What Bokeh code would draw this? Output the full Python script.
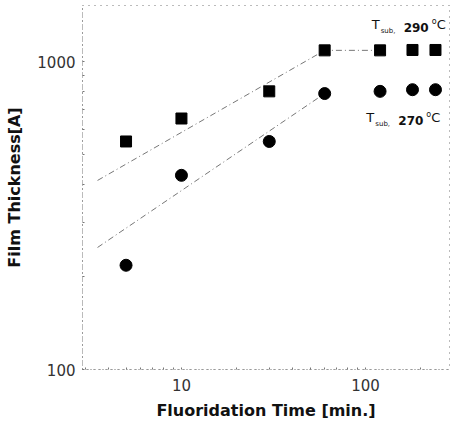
from bokeh.plotting import figure
from bokeh.models import FixedTicker, Label, Range1d
from bokeh.embed import file_html
from bokeh.resources import INLINE

# data
time_min = [5, 10, 30, 60, 120, 180, 240]
thick_290 = [550, 653, 800, 1087, 1087, 1090, 1090]
thick_270 = [218, 427, 550, 787, 800, 810, 810]

fit290_x = [3.5, 60, 120]
fit290_y = [411, 1087, 1087]
fit270_x = [3.5, 60]
fit270_y = [249, 787]

x_major = [10, 100]
x_minor = [3, 4, 5, 6, 7, 8, 9, 20, 30, 40, 50, 60, 70, 80, 90, 200]
y_major = [100, 1000]
y_minor = [200, 300, 400, 500, 600, 700, 800, 900]

FONT = "DejaVu Sans"

p = figure(width=451, height=429, x_axis_type="log", y_axis_type="log",
           x_range=Range1d(2.9, 286), y_range=Range1d(100, 1520),
           output_backend="svg", toolbar_location=None,
           min_border_left=82, min_border_right=2, min_border_top=5,
           min_border_bottom=60)
p.grid.visible = False
p.background_fill_color = "white"
p.border_fill_color = "white"
p.outline_line_color = "#777777"
p.outline_line_dash = "1 5"
p.outline_line_width = 1

p.line(fit290_x, fit290_y, line_color="#777777", line_width=1, line_dash="6 3 1 3")
p.line(fit270_x, fit270_y, line_color="#777777", line_width=1, line_dash="6 3 1 3")

p.scatter(time_min, thick_290, marker="square", size=11, color="black")
p.scatter(time_min, thick_270, marker="circle", size=12, color="black")

for ax, major, minor in ((p.xaxis[0], x_major, x_minor), (p.yaxis[0], y_major, y_minor)):
    ax.ticker = FixedTicker(ticks=major, minor_ticks=minor)
    ax.major_label_overrides = {v: str(v) for v in major}
    ax.major_label_text_font = FONT
    ax.major_label_text_font_size = "15px"
    ax.major_label_text_color = "#333333"
    ax.axis_label_text_font = FONT
    ax.axis_label_text_font_size = "16px"
    ax.axis_label_text_font_style = "bold"
    ax.axis_label_text_color = "#111111"
    ax.axis_line_color = "#777777"
    ax.axis_line_dash = "1 3"
    ax.major_tick_line_color = "#777777"
    ax.minor_tick_line_color = "#777777"
    ax.major_tick_in = 2
    ax.major_tick_out = 0
    ax.minor_tick_in = 2
    ax.minor_tick_out = 0

p.xaxis[0].axis_label = "Fluoridation Time [min.]"
p.yaxis[0].axis_label = "Film Thickness[A]"
p.xaxis[0].major_label_standoff = 9
p.yaxis[0].major_label_standoff = 7
p.xaxis[0].axis_label_standoff = 7
p.yaxis[0].axis_label_standoff = 10

def tsub(x, y, temp):
    p.add_layout(Label(x=x, y=y, text="T", text_font=FONT, text_font_size="13px",
                       text_color="#111111"))
    p.add_layout(Label(x=x, y=y, x_offset=9, y_offset=-3, text="sub,", text_font=FONT,
                       text_font_size="7px", text_color="#111111"))
    p.add_layout(Label(x=x, y=y, x_offset=32, text=temp, text_font=FONT,
                       text_font_size="12px", text_font_style="bold", text_color="#111111"))
    p.add_layout(Label(x=x, y=y, x_offset=60, y_offset=6, text="o", text_font=FONT,
                       text_font_size="8px", text_color="#111111"))
    p.add_layout(Label(x=x, y=y, x_offset=65, text="C", text_font=FONT,
                       text_font_size="13px", text_color="#111111"))

tsub(108, 1250, "290")
tsub(101, 624, "270")

open("out.html", "w").write(file_html(p, INLINE))
